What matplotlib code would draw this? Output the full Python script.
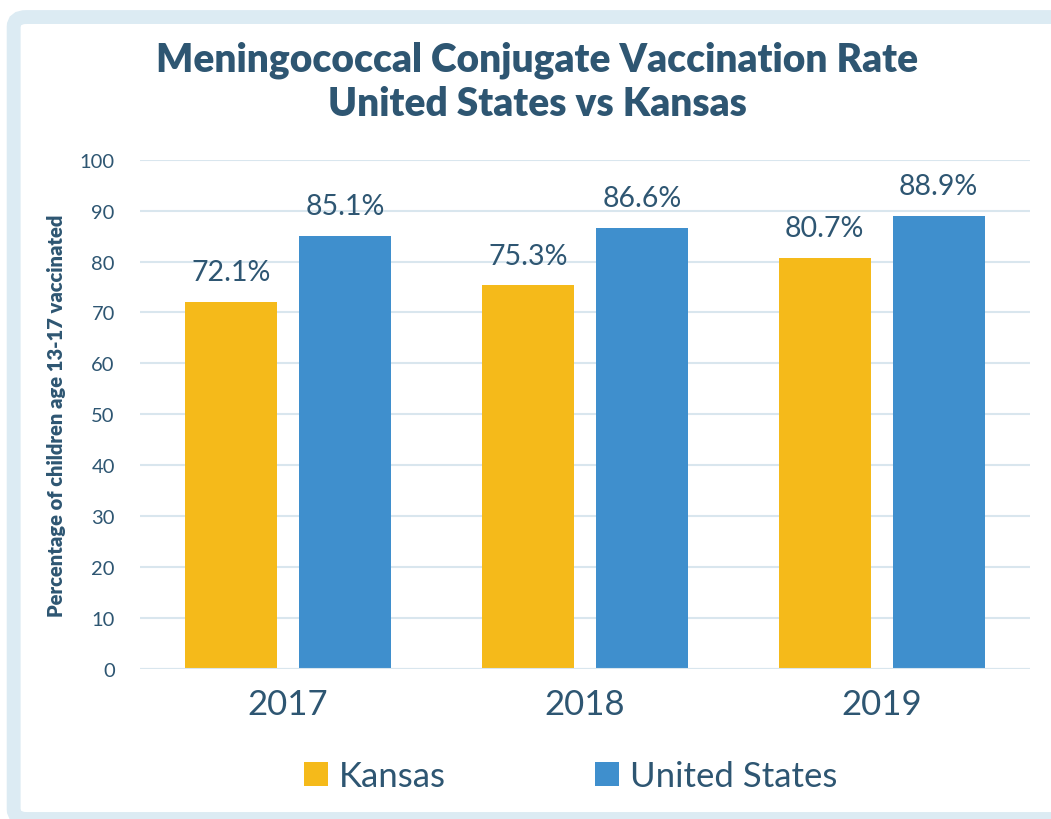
import matplotlib
matplotlib.use('Agg')
import matplotlib.pyplot as plt
from matplotlib.patches import FancyBboxPatch
import numpy as np

years = ['2017', '2018', '2019']
kansas = [72.1, 75.3, 80.7]
united_states = [85.1, 86.6, 88.9]

text_col = '#2E5672'
ks_col = '#F5BA1A'
us_col = '#3F8FCD'
grid_col = '#D9E6EE'

plt.rcParams['font.family'] = ['Lato', 'DejaVu Sans']

fig = plt.figure(figsize=(10.51, 8.2), dpi=100)
ax = fig.add_axes([0.133, 0.183, 0.847, 0.621])

# light blue frame round the whole chart (cut off at the bottom and right)
frame = FancyBboxPatch((0.013, 0.0), 1.2, 0.978, boxstyle='round,pad=0,rounding_size=0.012',
                       transform=fig.transFigure, fill=False, edgecolor='#DCEBF3', linewidth=10,
                       zorder=0)
fig.patches.append(frame)

x = np.arange(len(years))
w = 0.31
off = 0.192
b1 = ax.bar(x - off, kansas, w, color=ks_col, label='Kansas', zorder=3)
b2 = ax.bar(x + off, united_states, w, color=us_col, label='United States', zorder=3)

for bars, vals in [(b1, kansas), (b2, united_states)]:
    for r, v in zip(bars, vals):
        ax.text(r.get_x() + r.get_width() / 2, v + 3.3, f'{v:.1f}%', ha='center', va='bottom',
                fontsize=20.5, color=text_col)

ax.set_ylim(0, 100)
ax.set_xlim(-0.5, 2.5)
ax.set_yticks(range(0, 101, 10))
ax.set_xticks(x)
ax.set_xticklabels(years)
ax.tick_params(axis='y', length=0, labelsize=14.5, labelcolor=text_col, pad=18)
ax.tick_params(axis='x', length=0, labelsize=25, labelcolor=text_col, pad=14)
ax.grid(axis='y', color=grid_col, linewidth=1.5, zorder=0)
for s in ax.spines.values():
    s.set_visible(False)
ax.axhline(0, color=grid_col, linewidth=1.5, zorder=4)

ax.set_ylabel('Percentage of children age 13-17 vaccinated', fontsize=14.5, fontweight='heavy',
              color=text_col, labelpad=10)

fig.text(0.511, 0.927, 'Meningococcal Conjugate Vaccination Rate', ha='center', va='center',
         fontsize=28, fontweight='heavy', color=text_col)
fig.text(0.511, 0.872, 'United States vs Kansas', ha='center', va='center',
         fontsize=28, fontweight='heavy', color=text_col)

fig.legend(handles=[b1, b2], loc='center', bbox_to_anchor=(0.543, 0.052), ncol=2, frameon=False,
           fontsize=25, labelcolor=text_col, handlelength=0.7, handleheight=0.7,
           handletextpad=0.3, columnspacing=4.3)

fig.savefig('out.png', dpi=100)
